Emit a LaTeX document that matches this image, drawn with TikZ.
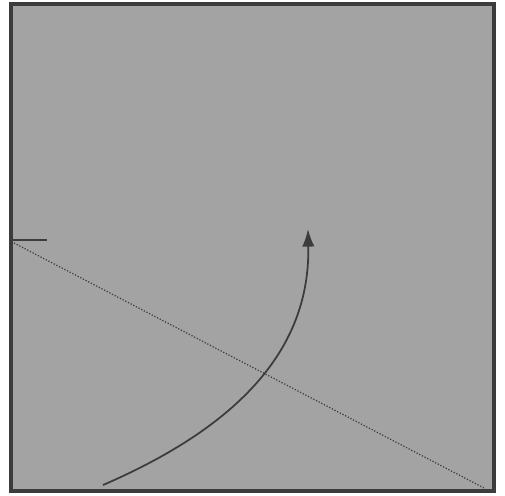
\documentclass[tikz,border=0pt]{standalone}
\usepackage{tikz}
\usetikzlibrary{positioning,calc,arrows.meta}

\definecolor{panel}{RGB}{163,163,163}
\definecolor{edge}{RGB}{60,60,60}

\begin{document}
\begin{tikzpicture}[
    x=0.02cm, y=-0.02cm,
    guide/.style={
        densely dotted,
        draw=edge,
        line width=0.7pt
    },
    path/.style={
        draw=edge,
        line width=1pt,
        -{Latex[length=10pt,width=7pt]}
    }
]
\useasboundingbox (0,0) rectangle (505,495);

\draw[fill=panel, draw=edge, line width=2pt] (11,4) rectangle (494,491);

\coordinate (tick) at (47,240);
\coordinate (left) at (12,240);
\coordinate (top) at (14,243);
\coordinate (corner) at (484,488);

\coordinate (start) at (103,485);
\coordinate (tip) at (308,229);

\draw[edge, line width=0.6pt] (left)--(tick);
\draw[guide] (top)--(corner);

\draw[path] (start) .. controls (258,418) and (310,335) .. (tip);

\end{tikzpicture}
\end{document}
